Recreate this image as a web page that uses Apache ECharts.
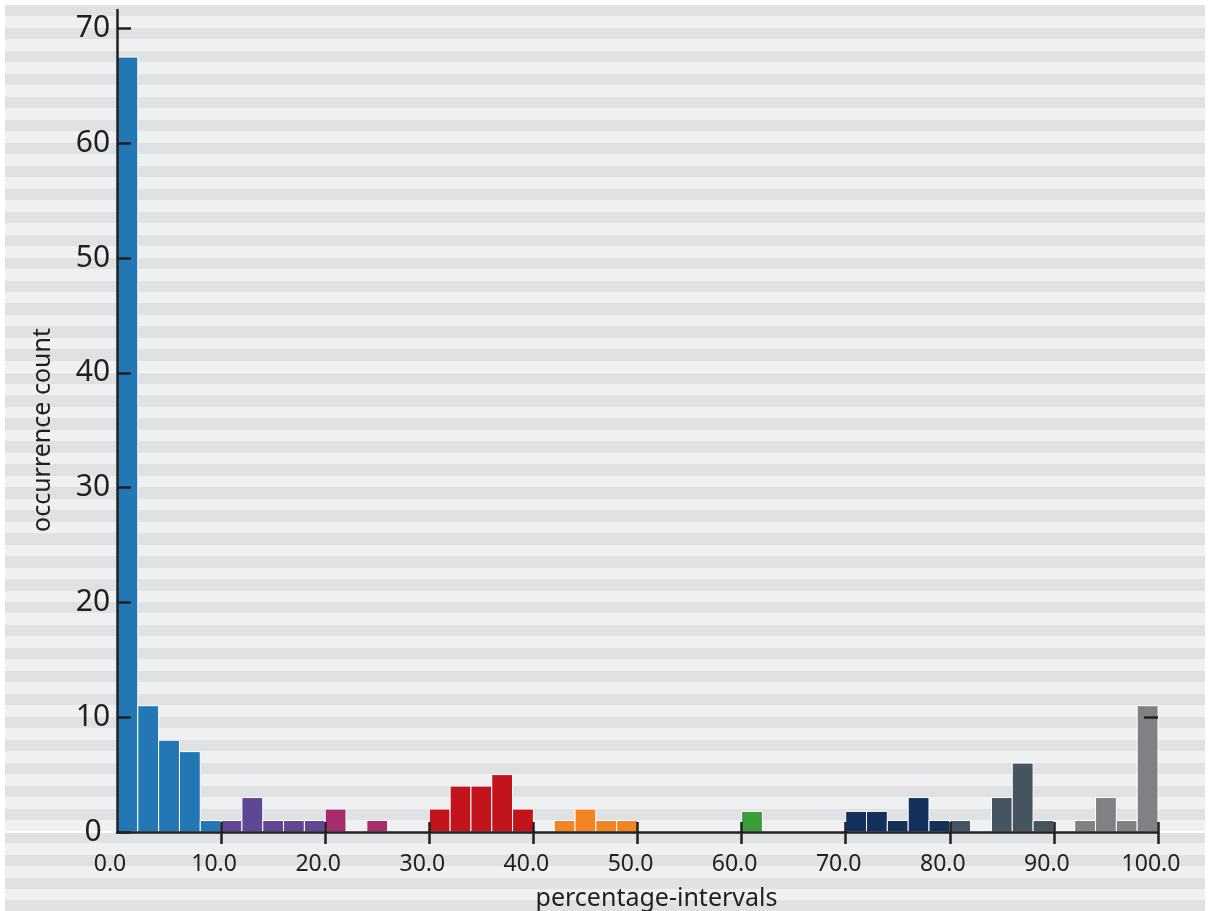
<!DOCTYPE html>
<html>
<head>
<meta charset="utf-8">
<script src="https://cdn.jsdelivr.net/npm/echarts@6/dist/echarts.min.js"></script>
<style>
  html, body { margin: 0; padding: 0; background: #ffffff; }
  #stripes { position: absolute; left: 5px; right: 4px; top: 6px; bottom: 0; }
  #chart { position: absolute; left: 0; top: 0; width: 1209px; height: 911px; }
</style>
</head>
<body>
<div id="stripes"></div>
<div id="chart"></div>
<script>
// ---- data ----
const binStarts = [0, 2, 4, 6, 8, 10, 12, 14, 16, 18, 20, 22, 24, 26, 28, 30, 32, 34, 36, 38,
                   40, 42, 44, 46, 48, 50, 52, 54, 56, 58, 60, 62, 64, 66, 68, 70, 72, 74, 76, 78,
                   80, 82, 84, 86, 88, 90, 92, 94, 96, 98];
const binEnds   = [2, 4, 6, 8, 10, 12, 14, 16, 18, 20, 22, 24, 26, 28, 30, 32, 34, 36, 38, 40,
                   42, 44, 46, 48, 50, 52, 54, 56, 58, 60, 62, 64, 66, 68, 70, 72, 74, 76, 78, 80,
                   82, 84, 86, 88, 90, 92, 94, 96, 98, 100];
const counts    = [67.5, 11, 8, 7, 1, 1, 3, 1, 1, 1, 2, 0, 1, 0, 0, 2, 4, 4, 5, 2,
                   0, 1, 2, 1, 1, 0, 0, 0, 0, 0, 1.8, 0, 0, 0, 0, 1.8, 1.8, 1, 3, 1,
                   1, 0, 3, 6, 1, 0, 1, 3, 1, 11];
const groupColors = ['#2277b4', '#5f4893', '#a72c6c', '#c3141c', '#f28423',
                     '#888888', '#3a9c3a', '#14315c', '#46545f', '#808184'];
const xTicks = [0, 10, 20, 30, 40, 50, 60, 70, 80, 90, 100];
const xTickMarks = [10, 20, 30, 40, 50, 60, 70, 80, 90, 100];
const yTicks = [0, 10, 20, 30, 40, 50, 60, 70];
const rightTick = [10];
const xName = 'percentage-intervals';
const yName = 'occurrence count';

const seriesData = binStarts.map((s, i) => [s, binEnds[i], counts[i], Math.floor(s / 10)]);

const FONT = 'Noto Sans';
const INK = '#231f20';
const YMAX = 71.6;

const chart = echarts.init(document.getElementById('chart'), null, { renderer: 'canvas' });

const option = {
  animation: false,
  backgroundColor: 'transparent',
  grid: { left: 117, right: 51, top: 10, bottom: 79, containLabel: false, outerBoundsMode: 'none' },
  xAxis: [
    {
      type: 'value', min: 0, max: 100, interval: 10, position: 'bottom', z: 10,
      axisLine: { show: true, onZero: false, lineStyle: { color: INK, width: 2.5 } },
      axisTick: { show: true, inside: false, length: 12, customValues: xTickMarks,
                  lineStyle: { color: INK, width: 2.5 } },
      axisLabel: { show: true, customValues: xTicks, margin: 21, fontFamily: FONT, fontSize: 23,
                   color: INK, padding: [0, 14, 0, 0],
                   formatter: v => Number(v).toFixed(1) },
      splitLine: { show: false },
      name: xName, nameLocation: 'middle', nameGap: 54,
      nameTextStyle: { fontFamily: FONT, fontSize: 25, color: INK, padding: [0, 0, 0, 38] }
    },
    {
      type: 'value', min: 0, max: 100, interval: 10, position: 'bottom', z: 10,
      axisLine: { show: false, onZero: false },
      axisTick: { show: true, inside: true, length: 10, customValues: xTickMarks,
                  lineStyle: { color: INK, width: 2.5 } },
      axisLabel: { show: false },
      splitLine: { show: false }
    }
  ],
  yAxis: [
    {
      type: 'value', min: 0, max: YMAX, interval: 10, position: 'left', z: 10,
      axisLine: { show: true, onZero: false, lineStyle: { color: INK, width: 2.5 } },
      axisTick: { show: true, inside: true, length: 14, customValues: yTicks,
                  lineStyle: { color: INK, width: 2.5 } },
      axisLabel: { show: true, customValues: yTicks, margin: 24, align: 'center',
                   fontFamily: FONT, fontSize: 30, color: INK },
      splitLine: { show: false },
      name: yName, nameLocation: 'middle', nameGap: 62,
      nameTextStyle: { fontFamily: FONT, fontSize: 25, color: INK, padding: [0, 18, 0, 0] }
    },
    {
      type: 'value', min: 0, max: YMAX, interval: 10, position: 'right', z: 10,
      axisLine: { show: false, onZero: false },
      axisTick: { show: true, inside: true, length: 14, customValues: rightTick,
                  lineStyle: { color: INK, width: 2.5 } },
      axisLabel: { show: false },
      splitLine: { show: false }
    }
  ],
  series: [
    {
      type: 'custom',
      xAxisIndex: 0, yAxisIndex: 0,
      z: 2,
      data: seriesData,
      encode: { x: [0, 1], y: 2 },
      renderItem: function (params, api) {
        const v = api.value(2);
        if (!v) return null;
        const p0 = api.coord([api.value(0), 0]);
        const p1 = api.coord([api.value(1), v]);
        return {
          type: 'rect',
          shape: { x: p0[0], y: p1[1], width: p1[0] - p0[0], height: p0[1] - p1[1] },
          style: { fill: groupColors[api.value(3)], stroke: '#ffffff', lineWidth: 1 }
        };
      }
    }
  ]
};

chart.setOption(option);

// striped page background aligned with one-unit bands of the y scale
(function () {
  const px = v => chart.convertToPixel({ yAxisIndex: 0 }, v);
  const unit = px(0) - px(1);
  const top = px(72);
  const el = document.getElementById('stripes');
  el.style.top = top + 'px';
  const dark = '#e0e1e3', light = '#eff0f2';
  const y0 = px(0) - top, y40 = px(40) - top;
  el.style.background =
    'linear-gradient(to bottom, transparent ' + (y0 - 0.5) + 'px, #ffffff ' + (y0 - 0.5) + 'px, #ffffff ' + (y0 + 1) + 'px, transparent ' + (y0 + 1) + 'px),' +
    'linear-gradient(to bottom, transparent ' + (y40 - 0.5) + 'px, #ffffff ' + (y40 - 0.5) + 'px, #ffffff ' + (y40 + 0.5) + 'px, transparent ' + (y40 + 0.5) + 'px),' +
    'repeating-linear-gradient(to bottom, ' + dark + ' 0px, ' + dark + ' ' + unit + 'px, ' + light + ' ' + unit + 'px, ' + light + ' ' + (2 * unit) + 'px)';
})();
</script>
</body>
</html>
